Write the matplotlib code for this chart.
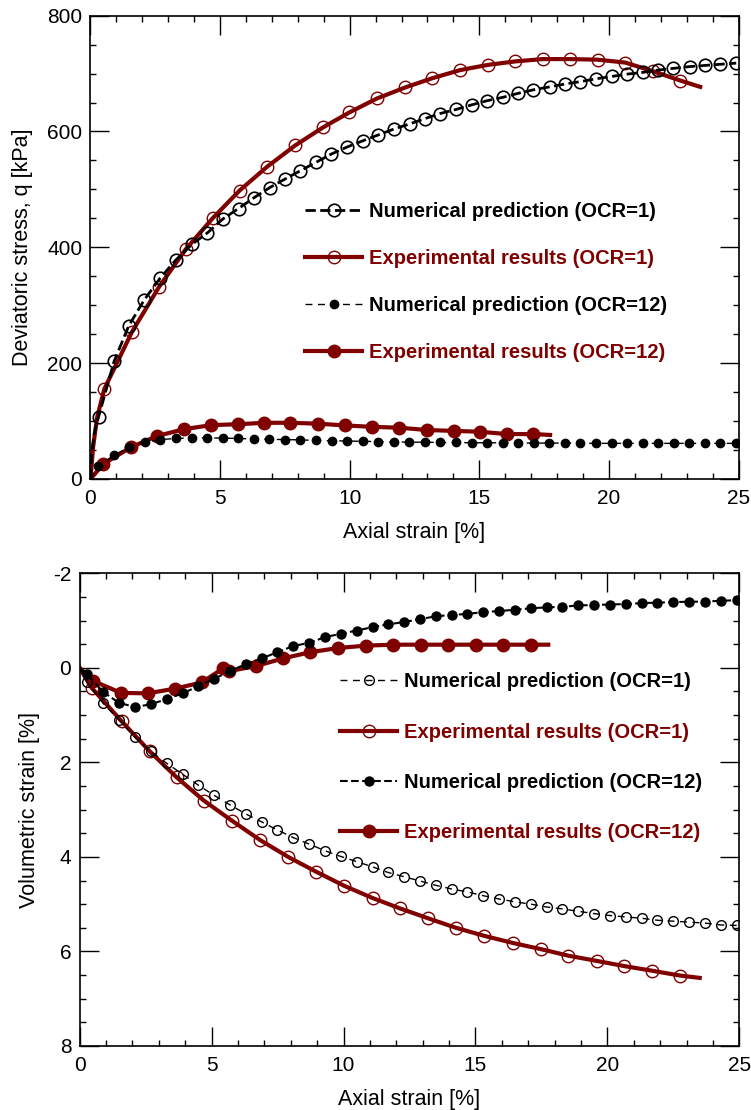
import matplotlib
matplotlib.use('Agg')
import matplotlib.pyplot as plt
from matplotlib.ticker import MultipleLocator

plt.rcParams['font.family'] = ['Liberation Sans', 'DejaVu Sans']
plt.rcParams['axes.unicode_minus'] = False

RED = '#800000'

# ---- top: deviatoric stress vs axial strain ----
num1_x = [0, 0.05, 0.15, 0.31, 0.91, 1.47, 2.07, 2.69, 3.29, 3.91, 4.51, 5.11, 5.71, 6.32, 6.91,
          7.51, 8.09, 8.71, 9.29, 9.89, 10.51, 11.1, 11.69, 12.31, 12.89, 13.49, 14.1, 14.71,
          15.29, 15.91, 16.51, 17.09, 17.71, 18.31, 18.89, 19.51, 20.11, 20.69, 21.3, 21.89,
          22.49, 23.11, 23.69, 24.29, 24.91]
num1_q = [0, 45, 80, 107, 203, 264, 309, 347, 378, 405, 425, 449, 467, 486, 503,
          518, 532, 547, 561, 573, 584, 594, 604, 613, 622, 631, 638, 646,
          653, 659, 666, 672, 677, 682, 686, 691, 695, 699, 702, 706,
          709, 712, 714, 716, 718]

exp1_x = [0, 0.1, 0.25, 0.53, 1.6, 2.65, 3.68, 4.71, 5.75, 6.81, 7.9, 8.97, 9.99, 11.05, 12.14,
          13.19, 14.26, 15.33, 16.39, 17.44, 18.48, 19.56, 20.63, 21.7, 22.75, 23.52]
exp1_q = [0, 55, 105, 155, 254, 332, 397, 450, 498, 539, 576, 607, 633, 657, 676,
          692, 706, 715, 721, 725, 725, 724, 719, 704, 688, 677]

num12_x = [0, 0.3, 0.9, 1.5, 2.1, 2.7, 3.3, 3.9, 4.5, 5.1, 5.7, 6.3, 6.9, 7.5, 8.1, 8.7, 9.3,
           9.9, 10.5, 11.1, 11.7, 12.3, 12.9, 13.5, 14.1, 14.7, 15.3, 15.9, 16.5, 17.1, 17.7,
           18.3, 18.9, 19.5, 20.1, 20.7, 21.3, 21.9, 22.5, 23.1, 23.7, 24.3, 24.9]
num12_q = [0, 22, 41, 55, 64, 68, 70, 71, 71, 70.5, 70, 69, 68.5, 68, 67.5, 66.5, 66,
           65.5, 65, 64.5, 64, 63.5, 63.5, 63, 63, 62.5, 62.5, 62.5, 62, 62, 62,
           62, 62, 61.5, 61.5, 61.5, 61.5, 61.5, 61.5, 61.5, 61.5, 61.5, 61.5]

exp12_x = [0, 0.5, 1.57, 2.56, 3.61, 4.66, 5.69, 6.7, 7.7, 8.76, 9.8, 10.86, 11.92, 12.98,
           14.03, 15.03, 16.06, 17.09, 17.73]
exp12_q = [0, 26, 55, 74, 86, 93, 94.5, 97, 97, 95.5, 92.5, 90, 88.5, 84.5,
           83, 81.5, 77.5, 77.5, 76]

# ---- bottom: volumetric strain vs axial strain ----
bnum_x = [0, 0.29, 0.89, 1.49, 2.1, 2.7, 3.3, 3.9, 4.49, 5.1, 5.7, 6.29, 6.9, 7.49, 8.09, 8.7,
          9.3, 9.89, 10.5, 11.1, 11.69, 12.3, 12.9, 13.49, 14.1, 14.69, 15.29, 15.89, 16.49,
          17.1, 17.7, 18.29, 18.89, 19.5, 20.09, 20.7, 21.32, 21.89, 22.49, 23.1, 23.69, 24.3, 24.9]
bnum1_v = [0, 0.31, 0.75, 1.1, 1.47, 1.77, 2.02, 2.25, 2.48, 2.7, 2.9, 3.09, 3.26, 3.43, 3.59,
           3.73, 3.87, 3.99, 4.1, 4.21, 4.33, 4.42, 4.51, 4.6, 4.68, 4.74, 4.82, 4.89, 4.95,
           5.0, 5.06, 5.1, 5.15, 5.2, 5.24, 5.27, 5.3, 5.34, 5.36, 5.38, 5.4, 5.44, 5.45]
bnum12_v = [0, 0.14, 0.51, 0.74, 0.83, 0.77, 0.66, 0.54, 0.39, 0.23, 0.07, -0.08, -0.2, -0.33,
            -0.46, -0.53, -0.65, -0.72, -0.79, -0.86, -0.92, -0.97, -1.03, -1.09, -1.12, -1.14,
            -1.18, -1.2, -1.23, -1.26, -1.28, -1.29, -1.32, -1.33, -1.34, -1.35, -1.37, -1.38,
            -1.39, -1.4, -1.4, -1.42, -1.43]

bexp1_x = [0, 0.45, 1.59, 2.66, 3.68, 4.71, 5.76, 6.83, 7.9, 8.95, 10.02, 11.1, 12.14, 13.21,
           14.26, 15.33, 16.41, 17.47, 18.52, 19.59, 20.64, 21.71, 22.75, 23.5]
bexp1_v = [0, 0.42, 1.13, 1.77, 2.32, 2.81, 3.23, 3.64, 4.0, 4.31, 4.61, 4.87, 5.09, 5.3,
           5.5, 5.67, 5.82, 5.95, 6.09, 6.2, 6.31, 6.41, 6.51, 6.56]

bexp12_x = [0, 0.49, 1.56, 2.58, 3.61, 4.62, 5.44, 5.67, 6.7, 7.71, 8.73, 9.8, 10.85, 11.88,
            12.93, 13.97, 15.02, 16.05, 17.1, 17.76]
bexp12_v = [0, 0.27, 0.53, 0.54, 0.44, 0.31, 0.01, 0.07, -0.04, -0.2, -0.33, -0.42, -0.47, -0.49,
            -0.49, -0.49, -0.49, -0.49, -0.49, -0.49]

labels = ['Numerical prediction (OCR=1)', 'Experimental results (OCR=1)',
          'Numerical prediction (OCR=12)', 'Experimental results (OCR=12)']

fig = plt.figure(figsize=(7.51, 11.1), dpi=100)
ax1 = fig.add_axes([0.1205, 0.5685, 0.8629, 0.4174])
ax2 = fig.add_axes([0.1061, 0.0577, 0.8783, 0.4258])


def style(ax):
    ax.tick_params(which='both', direction='in', top=True, right=True, labelsize=15, width=1)
    ax.tick_params(which='major', length=14)
    ax.tick_params(which='minor', length=4.5)
    ax.tick_params(axis='x', pad=7)
    ax.tick_params(axis='y', pad=6)
    for s in ax.spines.values():
        s.set_linewidth(1.2)
    ax.xaxis.set_major_locator(MultipleLocator(5))
    ax.xaxis.set_minor_locator(MultipleLocator(1))


leg_kw = dict(loc='center left', frameon=False, numpoints=1, handlelength=2.85,
              handletextpad=0.33, borderpad=0, borderaxespad=0,
              labelcolor='linecolor', prop={'weight': 'bold', 'size': 14.5})

# top
ax1.plot(num1_x, num1_q, '--', color='k', lw=2, marker='o', ms=9, mfc='none', mec='k', mew=1.2,
         markevery=list(range(3, len(num1_x))), label=labels[0], zorder=3)
ax1.plot(exp1_x, exp1_q, '-', color=RED, lw=3, marker='o', ms=9, mfc='none', mec=RED, mew=1,
         markevery=list(range(3, len(exp1_x) - 1)), label=labels[1], zorder=2)
ax1.plot(num12_x, num12_q, '--', color='k', lw=1, dashes=(5, 4), marker='o', ms=6, mfc='k', mec='k',
         markevery=list(range(1, len(num12_x))), label=labels[2], zorder=3)
ax1.plot(exp12_x, exp12_q, '-', color=RED, lw=3, marker='o', ms=9, mfc=RED, mec=RED,
         markevery=list(range(1, len(exp12_x) - 1)), label=labels[3], zorder=2)
ax1.set_xlim(0, 25)
ax1.set_ylim(0, 800)
ax1.yaxis.set_major_locator(MultipleLocator(200))
ax1.yaxis.set_minor_locator(MultipleLocator(50))
style(ax1)
ax1.set_xlabel('Axial strain [%]', fontsize=15.5, labelpad=10)
ax1.set_ylabel('Deviatoric stress, q [kPa]', fontsize=15.5, labelpad=10)
ax1.legend(bbox_to_anchor=(0.331, 0.426), labelspacing=1.39, **leg_kw)

# bottom
ax2.plot(bnum_x, bnum1_v, '--', color='k', lw=1, dashes=(5, 4), marker='o', ms=7, mfc='none',
         mec='k', mew=1, markevery=list(range(1, len(bnum_x))), label=labels[0], zorder=3)
ax2.plot(bexp1_x, bexp1_v, '-', color=RED, lw=3, marker='o', ms=9, mfc='none', mec=RED, mew=1,
         markevery=list(range(1, len(bexp1_x) - 1)), label=labels[1], zorder=2)
ax2.plot(bnum_x, bnum12_v, '--', color='k', lw=1.5, marker='o', ms=6.5, mfc='k', mec='k',
         markevery=list(range(1, len(bnum_x))), label=labels[2], zorder=3)
ax2.plot(bexp12_x, bexp12_v, '-', color=RED, lw=3, marker='o', ms=9, mfc=RED, mec=RED,
         markevery=list(range(1, len(bexp12_x) - 1)), label=labels[3], zorder=2)
ax2.set_xlim(0, 25)
ax2.set_ylim(8, -2)
ax2.yaxis.set_major_locator(MultipleLocator(2))
ax2.yaxis.set_minor_locator(MultipleLocator(0.5))
style(ax2)
ax2.set_xlabel('Axial strain [%]', fontsize=15.5, labelpad=10)
ax2.set_ylabel('Volumetric strain [%]', fontsize=15.5, labelpad=9)
ax2.legend(bbox_to_anchor=(0.3946, 0.611), labelspacing=1.55, **leg_kw)

fig.savefig('out.png', dpi=100)
